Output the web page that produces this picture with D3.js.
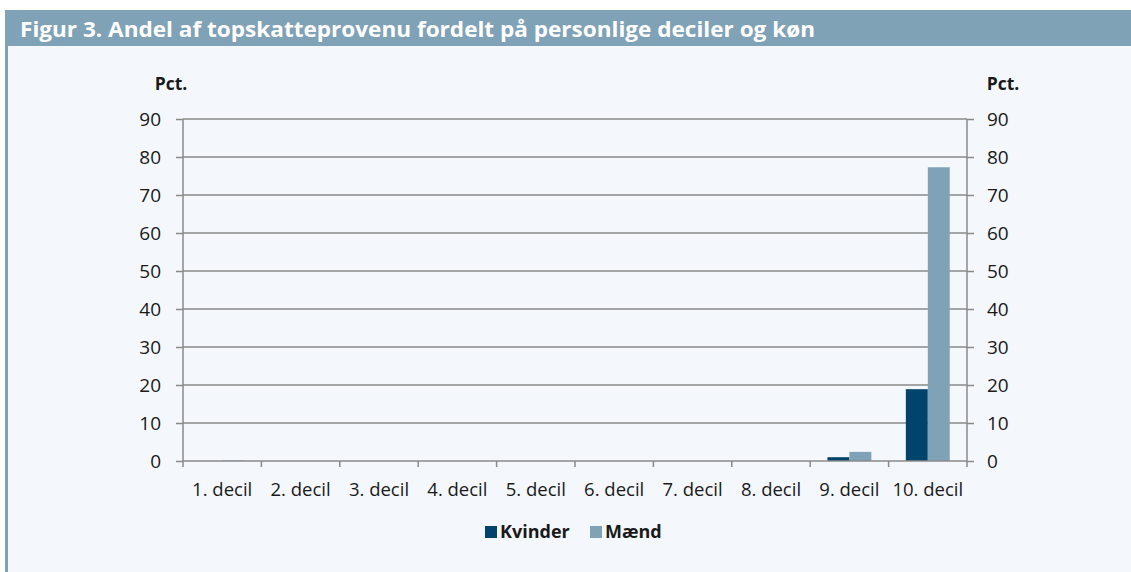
<!DOCTYPE html>
<html>
<head>
<meta charset="utf-8">
<script src="https://cdn.jsdelivr.net/npm/d3@7"></script>
<style>
  body { margin: 0; background: #ffffff; }
  text { font-family: "Open Sans", "Noto Sans", sans-serif; }
</style>
</head>
<body>
<div id="chart"></div>
<script>
// data
let categories = ["1. decil", "2. decil", "3. decil", "4. decil", "5. decil",
                  "6. decil", "7. decil", "8. decil", "9. decil", "10. decil"];
let kvinder = [0, 0, 0, 0, 0, 0, 0, 0, 1.0, 18.9];
let maend   = [0.1, 0, 0, 0, 0, 0, 0, 0, 2.4, 77.3];
let seriesNames = ["Kvinder", "Mænd"];
let seriesColors = ["#00446c", "#7fa2b7"];
let yTicks = [0, 10, 20, 30, 40, 50, 60, 70, 80, 90];
let title = "Figur 3. Andel af topskatteprovenu fordelt på personlige deciler og køn";

let W = 1131, H = 572;
let margin = {top: 119, right: 164, bottom: 111, left: 183};
let width = W - margin.left - margin.right;
let height = H - margin.top - margin.bottom;
let grey = "#8a8a8a";

let svg = d3.select("#chart").append("svg")
    .attr("width", W)
    .attr("height", H);

// panel background, title bar and left stripe
svg.append("rect").attr("x", 5).attr("y", 10).attr("width", W - 5).attr("height", H - 10)
    .attr("fill", "#f4f8fc");
svg.append("rect").attr("x", 5).attr("y", 10).attr("width", W - 5).attr("height", 36)
    .attr("fill", "#7fa2b7");
svg.append("rect").attr("x", 5).attr("y", 46).attr("width", 3).attr("height", H - 46)
    .attr("fill", "#7fa2b7");
svg.append("text").attr("x", 20).attr("y", 37)
    .attr("fill", "#ffffff").attr("font-size", 22).attr("font-weight", 700)
    .attr("textLength", 795).attr("lengthAdjust", "spacingAndGlyphs")
    .text(title);

let g = svg.append("g")
    .attr("transform", "translate(" + margin.left + "," + margin.top + ")");

// scales
let x0 = d3.scaleBand().domain(categories).range([0, width]).paddingInner(0).paddingOuter(0);
let x1 = d3.scaleBand().domain(seriesNames)
    .range([x0.bandwidth() * 0.22, x0.bandwidth() * 0.78]);
let y = d3.scaleLinear().domain([0, 90]).range([height, 0]);

// gridlines
g.append("g").selectAll("line")
    .data(yTicks.filter(d => d > 0))
    .join("line")
    .attr("x1", 0).attr("x2", width)
    .attr("y1", d => y(d)).attr("y2", d => y(d))
    .attr("stroke", grey).attr("stroke-width", 1.5);

// bars
let rows = categories.map((c, i) => ({cat: c, vals: [kvinder[i], maend[i]]}));
g.append("g").selectAll("g")
    .data(rows)
    .join("g")
    .attr("transform", d => "translate(" + x0(d.cat) + ",0)")
    .selectAll("rect")
    .data(d => d.vals.map((v, j) => ({name: seriesNames[j], v: v, j: j})))
    .join("rect")
    .attr("x", d => x1(d.name))
    .attr("width", x1.bandwidth())
    .attr("y", d => y(d.v))
    .attr("height", d => height - y(d.v))
    .attr("fill", d => seriesColors[d.j]);

// left axis
let yAxisL = d3.axisLeft(y).tickValues(yTicks).tickSize(7).tickPadding(15);
let gl = g.append("g").call(yAxisL);
// right axis
let yAxisR = d3.axisRight(y).tickValues(yTicks).tickSize(7).tickPadding(13);
let gr = g.append("g").attr("transform", "translate(" + width + ",0)").call(yAxisR);

[gl, gr].forEach(a => {
    a.select(".domain").attr("stroke", grey).attr("stroke-width", 1.5)
        .attr("d", "M0," + height + "V0");
    a.selectAll(".tick line").attr("stroke", grey).attr("stroke-width", 1.5);
    a.selectAll(".tick text").attr("font-size", 19).attr("fill", "#1a1a1a")
        .attr("font-family", "\"Open Sans\", sans-serif");
});

// bottom axis: baseline with ticks at category boundaries
let xg = g.append("g").attr("transform", "translate(0," + height + ")");
xg.append("line").attr("x1", 0).attr("x2", width)
    .attr("stroke", grey).attr("stroke-width", 1.5);
xg.selectAll(".bt")
    .data(categories.map(c => x0(c)).concat([width]))
    .join("line")
    .attr("x1", d => d).attr("x2", d => d)
    .attr("y1", 0).attr("y2", 6)
    .attr("stroke", grey).attr("stroke-width", 1.5);
xg.selectAll(".lbl")
    .data(categories)
    .join("text")
    .attr("x", d => x0(d) + x0.bandwidth() / 2)
    .attr("y", 35)
    .attr("text-anchor", "middle")
    .attr("font-size", 18.5)
    .attr("fill", "#1a1a1a")
    .text(d => d);

// unit labels
svg.append("text").attr("x", 171).attr("y", 90).attr("text-anchor", "middle")
    .attr("font-size", 17.5).attr("font-weight", 700).attr("fill", "#1a1a1a").text("Pct.");
svg.append("text").attr("x", 1003).attr("y", 90).attr("text-anchor", "middle")
    .attr("font-size", 17.5).attr("font-weight", 700).attr("fill", "#1a1a1a").text("Pct.");

// legend
let legend = svg.append("g").attr("transform", "translate(485,533)");
let lx = [0, 105];
seriesNames.forEach((n, i) => {
    legend.append("rect").attr("x", lx[i]).attr("y", -7).attr("width", 12).attr("height", 12)
        .attr("fill", seriesColors[i]);
    legend.append("text").attr("x", lx[i] + 15).attr("y", 5)
        .attr("font-size", 18).attr("font-weight", 700).attr("fill", "#1a1a1a").text(n);
});
</script>
</body>
</html>
